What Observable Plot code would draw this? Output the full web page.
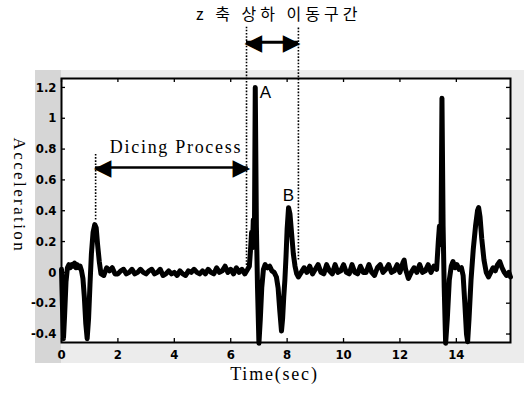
<!DOCTYPE html>
<html><head><meta charset="utf-8">
<script src="https://cdn.jsdelivr.net/npm/d3@7"></script>
<script src="https://cdn.jsdelivr.net/npm/@observablehq/plot@0.6"></script>
<style>
html,body{margin:0;padding:0;background:#fff;}
#wrap{position:relative;width:524px;height:396px;overflow:hidden;}
#scan{position:absolute;left:35px;top:70px;width:489px;height:293px;background:#ececec;}
#scanL{position:absolute;left:35px;top:70px;width:26px;height:293px;background:#d6d6d6;}
#wrap svg{position:absolute;left:0;top:0;}
</style></head>
<body><div id="wrap"><div id="scan"></div><div id="scanL"></div></div>
<script>
// ---- measured signal (time in s, acceleration) ----
const time = [
  0.00,0.03,0.07,0.11,0.16,0.21,0.26,0.31,0.36,0.41,
  0.46,0.51,0.56,0.61,0.66,0.71,0.76,0.81,0.86,0.91,
  0.96,1.01,1.06,1.12,1.18,1.23,1.28,1.34,1.40,
  1.5,1.6,1.7,1.8,1.9,2.0,2.1,2.2,2.3,2.4,
  2.5,2.6,2.7,2.8,2.9,3.0,3.1,3.2,3.3,3.4,
  3.5,3.6,3.7,3.8,3.9,4.0,4.1,4.2,4.3,4.4,
  4.5,4.6,4.7,4.8,4.9,5.0,5.1,5.2,5.3,5.4,
  5.5,5.6,5.7,5.8,5.9,6.0,6.1,6.2,6.3,6.4,
  6.5,6.6,
  6.66,6.70,6.74,6.77,6.80,6.84,6.87,6.91,6.95,7.00,
  7.05,7.10,7.16,7.22,7.30,7.38,7.46,7.54,7.62,7.68,
  7.74,7.80,7.84,7.88,7.92,7.96,8.00,8.05,8.10,8.16,
  8.22,8.28,8.34,8.40,
  8.5,8.6,8.7,8.8,8.9,9.0,9.1,9.2,9.3,9.4,
  9.5,9.6,9.7,9.8,9.9,10.0,10.1,10.2,10.3,10.4,
  10.5,10.6,10.7,10.8,10.9,11.0,11.1,11.2,11.3,11.4,
  11.5,11.6,11.7,11.8,11.9,12.0,12.1,12.15,12.2,12.3,
  12.4,12.5,12.6,12.7,12.8,12.9,13.0,13.1,13.2,13.3,
  13.36,13.40,13.43,13.46,13.49,13.53,13.57,13.62,13.68,13.75,
  13.82,13.88,13.95,14.02,14.10,14.18,14.24,14.30,14.36,14.40,
  14.45,14.52,14.60,14.68,14.75,14.79,14.84,14.90,14.98,15.06,
  15.14,15.22,15.30,15.38,15.46,15.54,15.62,15.70,15.78,15.86,
  15.92
];
const accel = [
  0.02,-0.20,-0.43,-0.28,-0.06,0.03,0.05,0.03,0.05,0.04,
  0.06,0.03,0.05,0.03,0.04,0.01,-0.04,-0.16,-0.33,-0.43,
  -0.30,-0.08,0.12,0.26,0.31,0.29,0.18,0.07,-0.01,
  -0.02,0.03,0.01,0.03,-0.01,-0.01,0.01,0.02,-0.01,0.00,
  0.02,-0.01,0.00,0.02,0.00,-0.01,0.01,0.02,-0.01,0.00,
  0.02,-0.02,-0.01,0.01,-0.01,0.00,-0.02,0.01,-0.01,-0.02,
  0.01,0.00,0.02,0.00,-0.01,0.01,-0.01,0.02,0.00,-0.01,
  0.03,0.00,0.01,0.04,0.00,0.02,-0.01,0.03,0.00,0.02,
  -0.01,0.02,
  0.04,0.14,0.26,0.16,0.34,0.22,1.20,0.30,-0.10,-0.46,
  -0.30,-0.10,0.02,0.05,0.03,0.04,0.01,0.00,-0.03,-0.10,
  -0.25,-0.38,-0.30,-0.16,-0.05,0.10,0.28,0.42,0.38,0.25,
  0.12,0.04,-0.01,-0.03,
  0.00,0.03,0.00,0.04,-0.01,0.02,0.05,0.00,-0.01,0.05,
  0.01,-0.01,0.05,0.00,0.01,0.05,0.00,-0.01,0.05,0.00,
  -0.01,0.04,0.00,0.00,0.05,0.00,-0.02,0.03,0.05,0.00,
  0.02,0.05,0.00,0.01,0.05,0.00,0.06,0.08,0.02,-0.04,
  0.00,0.03,0.00,0.05,0.00,0.01,0.05,0.00,0.04,0.02,
  0.20,0.30,0.18,0.32,1.13,0.30,-0.10,-0.46,-0.30,-0.05,
  0.04,0.07,0.03,0.05,0.02,0.03,-0.02,-0.20,-0.40,-0.45,
  -0.30,-0.05,0.15,0.30,0.40,0.42,0.36,0.22,0.08,0.00,
  -0.03,0.00,0.03,0.01,0.05,0.07,0.03,0.00,-0.02,0.00,
  -0.03
];

// ---- axes ----
const xTicks = [0, 2, 4, 6, 8, 10, 12, 14];
const yTicks = [-0.4, -0.2, 0, 0.2, 0.4, 0.6, 0.8, 1, 1.2];
const xLabel = "Time(sec)";
const yLabel = "Acceleration";

// ---- annotations (data units) ----
const zoneBounds = [6.56, 8.40];
const zoneLineBottoms = [0.045, 0.08];
const zoneLineTop = 1.59;
const zoneArrowLevel = 1.494;
const zoneTitle = "z 축 상하 이동구간";
const zoneTitlePos = [7.7, 1.67];
const dicingBounds = [1.21, 6.62];
const dicingArrowLevel = 0.68;
const dicingLineRange = [0.34, 0.77];
const dicingLabel = "Dicing Process";
const dicingLabelPos = [4.06, 0.81];
const peakLabels = ["A", "B"];
const peakLabelTime = [7.23, 8.05];
const peakLabelAccel = [1.17, 0.50];

const series = time.map((t, i) => ({t, v: accel[i]}));
const serif = "'Liberation Serif', 'Times New Roman', serif";
const dotted = {stroke: "black", strokeWidth: 1.6, strokeDasharray: "1.6,1.6"};
const head = {fontFamily: "DejaVu Sans", fontSize: 23, fontWeight: "normal"};

const plotW = 524, plotH = 396, mL = 61, mR = 14, mT = 78, mB = 54;
const innerW = plotW - mL - mR, innerH = plotH - mT - mB;

const chart = Plot.plot({
  width: plotW, height: plotH,
  marginLeft: mL, marginRight: mR, marginTop: mT, marginBottom: mB,
  x: {domain: [0, 15.92], label: null},
  y: {domain: [-0.455, 1.258], label: null},
  style: {background: "transparent", overflow: "visible",
          fontFamily: "'Liberation Sans Narrow','DejaVu Sans Condensed',sans-serif",
          fontSize: "13px", fontWeight: "bold", color: "black"},
  marks: [
    Plot.frame({fill: "white", stroke: null}),
    Plot.line(series, {x: "t", y: "v", stroke: "black", strokeWidth: 5,
      strokeLinejoin: "round", strokeLinecap: "round"}),
    Plot.frame({stroke: "black", strokeWidth: 2}),
    // inward ticks on all four sides
    Plot.tickX(xTicks, {x: d => d, insetTop: innerH - 4, stroke: "black", strokeWidth: 1.3}),
    Plot.tickX(xTicks, {x: d => d, insetBottom: innerH - 4, stroke: "black", strokeWidth: 1.3}),
    Plot.tickY(yTicks, {y: d => d, insetRight: innerW - 4, stroke: "black", strokeWidth: 1.3}),
    Plot.tickY(yTicks, {y: d => d, insetLeft: innerW - 4, stroke: "black", strokeWidth: 1.3}),
    Plot.axisX(xTicks, {tickSize: 0, tickPadding: 7, tickFormat: d => String(d)}),
    Plot.axisY(yTicks, {tickSize: 0, tickPadding: 5, tickFormat: d => String(d)}),
    // axis titles
    Plot.text([{t: 7.55, label: xLabel}], {x: "t", text: "label", frameAnchor: "bottom", dy: 37,
      textAnchor: "middle", fontFamily: serif, fontSize: 18, fontWeight: "normal"}),
    Plot.text([{v: 0.5, label: yLabel}], {y: "v", text: "label", frameAnchor: "left", dx: -42, rotate: 90,
      textAnchor: "middle", fontFamily: serif, fontSize: 17, fontWeight: "normal"}),
    // Z-axis movement zone
    Plot.ruleX(zoneBounds.map((t, i) => ({t, lo: zoneLineBottoms[i], hi: zoneLineTop})),
      {x: "t", y1: "lo", y2: "hi", ...dotted}),
    Plot.ruleY([{a: zoneBounds[0], b: zoneBounds[1], v: zoneArrowLevel}],
      {y: "v", x1: "a", x2: "b", stroke: "black", strokeWidth: 3}),
    Plot.text([{t: zoneBounds[0], v: zoneArrowLevel}], {x: "t", y: "v", text: () => "◀", textAnchor: "start", dx: -2, ...head}),
    Plot.text([{t: zoneBounds[1], v: zoneArrowLevel}], {x: "t", y: "v", text: () => "▶", textAnchor: "end", dx: 2, ...head}),
    Plot.text([{t: zoneTitlePos[0], v: zoneTitlePos[1], label: zoneTitle}], {x: "t", y: "v", text: "label",
      fontFamily: "'Noto Sans CJK KR', sans-serif", fontSize: 16, fontWeight: "normal"}),
    // Dicing process
    Plot.ruleX([{t: dicingBounds[0], lo: dicingLineRange[0], hi: dicingLineRange[1]}],
      {x: "t", y1: "lo", y2: "hi", ...dotted}),
    Plot.ruleY([{a: dicingBounds[0], b: dicingBounds[1], v: dicingArrowLevel}],
      {y: "v", x1: "a", x2: "b", stroke: "black", strokeWidth: 2.5}),
    Plot.text([{t: dicingBounds[0], v: dicingArrowLevel}], {x: "t", y: "v", text: () => "◀", textAnchor: "start", dx: -2, ...head}),
    Plot.text([{t: dicingBounds[1], v: dicingArrowLevel}], {x: "t", y: "v", text: () => "▶", textAnchor: "end", dx: 2, ...head}),
    Plot.text([{t: dicingLabelPos[0], v: dicingLabelPos[1], label: dicingLabel}], {x: "t", y: "v", text: "label",
      fontFamily: serif, fontSize: 18, fontWeight: "normal"}),
    // peak labels
    Plot.text(peakLabels.map((s, i) => ({s, t: peakLabelTime[i], v: peakLabelAccel[i]})), {x: "t", y: "v", text: "s",
      fontFamily: "'Liberation Sans', Arial, sans-serif", fontSize: 17, fontWeight: "normal"})
  ]
});
// letter spacing of the scanned-style labels
const spacing = {[zoneTitle]: 4, [dicingLabel]: 1.7, [yLabel]: 2.4, [xLabel]: 1.8};
d3.select(chart).selectAll("text").each(function () {
  const s = spacing[this.textContent];
  if (s) this.style.letterSpacing = s + "px";
});
document.getElementById("wrap").appendChild(chart);
</script>
</body></html>
